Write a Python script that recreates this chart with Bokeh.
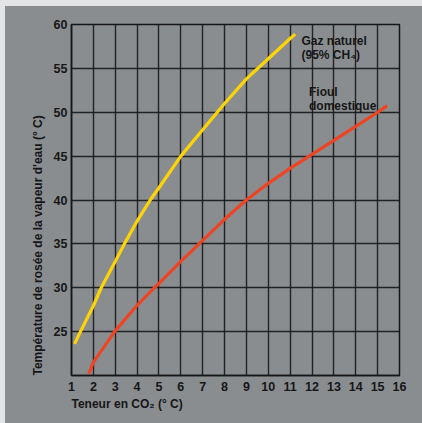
from bokeh.plotting import figure
from bokeh.models import Range1d, FixedTicker, Label, Title
from bokeh.embed import file_html
from bokeh.resources import INLINE

# ---- data ----
gaz_x = [1.14, 1.41, 2.0, 2.36, 3.0, 3.42, 4.0, 4.6, 5.0, 6.0, 7.0, 8.0, 9.0, 10.0, 11.0, 11.23]
gaz_y = [23.6, 25.0, 27.95, 30.0, 33.0, 35.0, 37.6, 40.0, 41.4, 45.0, 48.0, 51.0, 53.8, 56.1, 58.4, 58.9]

fioul_x = [1.79, 2.0, 2.97, 4.0, 4.79, 5.0, 6.0, 7.0, 8.0, 9.0, 10.0, 11.0, 12.0, 13.0, 14.0, 15.0, 15.44]
fioul_y = [20.2, 21.5, 25.0, 28.0, 30.0, 30.5, 33.0, 35.4, 37.8, 40.0, 41.9, 43.6, 45.2, 46.8, 48.4, 50.0, 50.76]

x_ticks = list(range(1, 17))
y_ticks = [25, 30, 35, 40, 45, 50, 55, 60]
x_title = "Teneur en CO₂ (° C)"
y_title = "Température de rosée de la vapeur d'eau (° C)"

PANEL = "#8a8d90"
INK = "#161616"
FONT = "Liberation Sans"

p = figure(width=422, height=423, output_backend="svg", toolbar_location=None,
           x_range=Range1d(1, 16), y_range=Range1d(20, 60),
           min_border_left=71, min_border_right=23, min_border_top=24, min_border_bottom=48)

p.background_fill_color = PANEL
p.border_fill_color = None
p.outline_line_color = INK
p.outline_line_width = 1.5

for ax in (p.xaxis[0], p.yaxis[0]):
    ax.axis_line_color = INK
    ax.axis_line_width = 1.5
    ax.major_tick_line_color = None
    ax.minor_tick_line_color = None
    ax.major_tick_out = 0
    ax.major_tick_in = 0
    ax.major_label_text_font = FONT
    ax.major_label_text_font_style = "bold"
    ax.major_label_text_font_size = "12.5px"
    ax.major_label_text_color = INK

p.xaxis.ticker = FixedTicker(ticks=x_ticks)
p.yaxis.ticker = FixedTicker(ticks=y_ticks)
p.xaxis.major_label_standoff = 6
p.yaxis.major_label_standoff = 4

# axis titles as side-panel titles, aligned to the frame start
p.add_layout(Title(text=y_title, align="left", text_font=FONT, text_font_style="bold",
                   text_font_size="12px", text_color=INK, standoff=11, offset=0), "left")
p.add_layout(Title(text=x_title, align="left", text_font=FONT, text_font_style="bold",
                   text_font_size="12px", text_color=INK, standoff=2, offset=0), "below")

p.xgrid.ticker = FixedTicker(ticks=x_ticks)
p.ygrid.ticker = FixedTicker(ticks=y_ticks)
for g in (p.xgrid[0], p.ygrid[0]):
    g.grid_line_color = INK
    g.grid_line_width = 1.4
    g.grid_line_alpha = 0.9

p.line(gaz_x, gaz_y, line_color="#ffd400", line_width=3.2)
p.line(fioul_x, fioul_y, line_color="#ee4423", line_width=3.2)

def lab(text, x, y):
    p.add_layout(Label(x=x, y=y, x_units="screen", y_units="screen", text=text,
                       text_font=FONT, text_font_style="bold", text_color=INK,
                       text_font_size="12px", text_align="left",
                       text_baseline="alphabetic"))

# curve labels (screen offsets from the frame's lower-left corner)
lab("Gaz naturel", 230, 335)
lab("(95% CH₄)", 230, 321)
lab("Fioul", 237.5, 284)
lab("domestique", 237.5, 269.5)

html = file_html(p, INLINE)
html = html.replace(
    "</head>",
    "<style>html{background:linear-gradient(to right,#e3e4e5 5px,transparent 5px),"
    "linear-gradient(to bottom,#e3e4e5 6px,#8a8d90 6px);}</style></head>", 1)
open("out.html", "w").write(html)
